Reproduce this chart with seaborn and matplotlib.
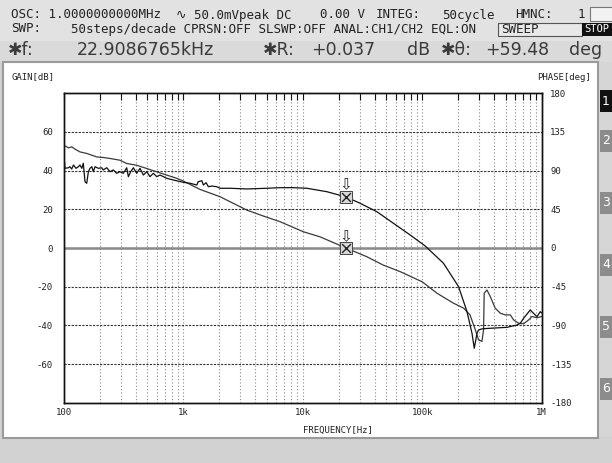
import numpy as np
import matplotlib
matplotlib.use("Agg")
import matplotlib.pyplot as plt
import matplotlib.ticker as mticker
from matplotlib.patches import Rectangle
import seaborn as sns

# gain curve (CH1/CH2), frequency in Hz, gain in dB
gain_freq = [100, 102, 109, 116, 124, 136, 155, 188, 213, 243, 294, 335, 406, 493, 598,
             725, 883, 1000, 1376, 2028, 3395, 4680, 6450, 10100, 13900, 22900, 34300,
             47000, 65200, 100000, 133000, 182000, 222000, 251000, 278000, 296000,
             316000, 326000, 330000, 348000, 371000, 408000, 450000, 495000, 546000,
             582000, 640000, 705000, 777000, 829000, 913000, 1000000]
gain_db = [53.5, 52.8, 51.8, 52.3, 51.1, 49.7, 48.9, 47.1, 46.8, 46.3, 45.4, 43.7, 42.8,
           41.1, 39.4, 37.7, 36.0, 34.6, 30.3, 26.5, 19.6, 16.5, 13.6, 8.4, 5.8, 0.037,
           -4.5, -8.8, -12.2, -17.5, -23.4, -28.5, -31.1, -34.6, -42.3, -47.5, -48.3,
           -42.3, -23.4, -21.7, -25.1, -31.1, -33.7, -34.6, -34.6, -37.2, -38.9, -39.2,
           -37.2, -35.4, -36.1, -35.4]

# phase curve, degrees
phase_freq = [100, 102, 109, 112, 116, 120, 126, 132, 136, 141, 145, 150, 155, 160, 165,
              171, 176, 182, 194, 207, 213, 228, 243, 259, 276, 294, 314, 335, 346, 362,
              381, 406, 433, 462, 493, 525, 560, 598, 637, 725, 824, 1000, 1137, 1294,
              1328, 1425, 1469, 1549, 1618, 1728, 1902, 2028, 2460, 3395, 4991, 6450,
              8345, 10810, 15890, 22900, 30200, 41700, 57400, 79300, 105900, 150600,
              201300, 236800, 260600, 272500, 287000, 296000, 318000, 371000, 512000,
              621000, 662000, 705000, 802000, 855000, 913000, 973000, 1000000]
phase_deg = [106.0, 92.7, 93.4, 94.6, 91.9, 96.6, 92.7, 94.6, 96.6, 92.7, 98.6, 77.1,
             75.3, 88.8, 92.7, 94.6, 88.8, 94.6, 92.7, 93.4, 90.8, 93.4, 88.8, 90.8, 86.9,
             88.8, 86.9, 93.4, 83.0, 88.8, 93.4, 86.9, 92.7, 84.9, 88.8, 83.0, 86.9, 83.0,
             84.9, 81.1, 79.1, 76.4, 75.3, 73.3, 77.1, 78.3, 73.3, 76.0, 71.3, 72.1, 71.3,
             69.5, 69.5, 68.7, 69.5, 70.2, 70.2, 69.5, 65.5, 59.48, 52.0, 42.2, 28.7,
             15.1, 2.3, -17.8, -45.0, -74.0, -99.0, -116.7, -99.3, -95.4, -94.0, -93.4,
             -92.3, -89.6, -87.6, -81.8, -72.1, -76.0, -79.9, -74.1, -75.6]

marker_freq = 22900
marker_gain = 0.037
marker_phase = 59.48

gain_ticks = [-60, -40, -20, 0, 20, 40, 60]
phase_ticks = [-180, -135, -90, -45, 0, 45, 90, 135, 180]
freq_ticks = [100, 1000, 10000, 100000, 1000000]
freq_labels = ["100", "1k", "10k", "100k", "1M"]

W, H = 612, 463

sns.set_theme(style="white")
plt.rcParams["font.family"] = ["DejaVu Sans Mono", "DejaVu Sans"]

fig = plt.figure(figsize=(W / 100, H / 100), dpi=100)
fig.patch.set_facecolor("#d2d2d2")


def box(x0, y0, x1, y1, fc, ec="none", lw=0):
    r = Rectangle((x0 / W, 1 - y1 / H), (x1 - x0) / W, (y1 - y0) / H,
                  transform=fig.transFigure, facecolor=fc, edgecolor=ec,
                  linewidth=lw, zorder=-5)
    fig.patches.append(r)


def txt(x, y, s, size=9, color="#222", ha="left", **kw):
    fig.text(x / W, 1 - y / H, s, fontsize=size, color=color, ha=ha, va="center", **kw)


# screen areas
box(0, 0, 612, 62, "#e2e2e2")
box(0, 41, 612, 62, "#dadada")
box(598, 62, 612, 437, "#d6d6d6")
box(3, 62, 598, 438, "white", "#9a9a9a", 1.5)

# header lines
txt(11, 15, "OSC: 1.0000000000MHz")
txt(176, 15, "\u223f 50.0mVpeak DC")
txt(320, 15, "0.00 V")
txt(376, 15, "INTEG:")
txt(442, 15, "50cycle")
txt(515, 15, "HMNC:")
txt(578, 15, "1")
box(590, 7, 613, 21, "#f2f2f2", "#777", 0.8)

txt(11, 29, "SWP:")
txt(71, 29, "50steps/decade CPRSN:OFF SLSWP:OFF ANAL:CH1/CH2 EQL:ON")
box(498, 23, 582, 36, "#e8e8e8", "#555", 0.8)
txt(501, 29.5, "SWEEP")
box(582, 23, 613, 36, "#111")
txt(584, 29.5, "STOP", size=7.5, color="white")

big = dict(size=12.5, family=["DejaVu Sans"], color="#3a3a3a")
txt(8, 50, "\u2731f:", **big)
txt(77, 50, "22.9086765kHz", **big)
txt(263, 50, "\u2731R:", **big)
txt(311, 50, "+0.037", **big)
txt(407, 50, "dB", **big)
txt(441, 50, "\u2731\u03b8:", **big)
txt(485, 50, "+59.48", **big)
txt(569, 50, "deg", **big)

# side tabs
for i, yc in enumerate([101, 141, 203, 265, 327, 389]):
    box(600, yc - 11, 612, yc + 11, "#111" if i == 0 else "#8c8c8c")
    txt(606, yc, str(i + 1), size=9, color="white", ha="center", family=["DejaVu Sans"])

# plot area
ax = fig.add_axes([64 / W, 1 - 402.7 / H, 477.7 / W, 309.4 / H])
ax.set_facecolor("white")
ax.set_xscale("log")
ax.set_xlim(100, 1e6)
ax.set_ylim(-80, 80)

ax.grid(axis="x", which="both", linestyle=(0, (1, 2)), color="#8a8a8a", linewidth=0.8)
ax.grid(axis="y", which="major", linestyle=(0, (2, 1.2)), color="#333", linewidth=0.8)
ax.axhline(0, color="#8a8a8a", linewidth=1.8, zorder=1.5)

sns.lineplot(x=gain_freq, y=gain_db, ax=ax, color="#3a3a3a", linewidth=0.9,
             estimator=None, zorder=3)

ax2 = ax.twinx()
ax2.set_ylim(-180, 180)
ax2.grid(False)
sns.lineplot(x=phase_freq, y=phase_deg, ax=ax2, color="#111", linewidth=0.9,
             estimator=None, zorder=3)

# markers
for a, yv in [(ax, marker_gain), (ax2, marker_phase)]:
    a.scatter([marker_freq], [yv], marker="s", s=75, facecolor="#d8d8d8",
              edgecolor="#444", linewidth=0.7, zorder=5)
    a.scatter([marker_freq], [yv], marker="x", s=40, color="#222", linewidth=1.0, zorder=6)
    a.annotate("\u21e9", xy=(marker_freq, yv), xytext=(0, 3), textcoords="offset points",
               ha="center", va="bottom", fontsize=11, color="#222",
               family=["DejaVu Sans"], zorder=6)

tick_font = dict(fontsize=6.5, color="#222")
ax.set_xticks(freq_ticks)
ax.set_xticklabels(freq_labels, **tick_font)
ax.xaxis.set_minor_locator(mticker.LogLocator(base=10, subs=np.arange(2, 10)))
ax.xaxis.set_minor_formatter(mticker.NullFormatter())
ax.tick_params(axis="x", which="both", direction="in", top=True, length=5,
               width=0.8, color="#111", pad=4)
ax.set_yticks(gain_ticks)
ax.set_yticklabels([str(v) for v in gain_ticks], **tick_font)
ax.tick_params(axis="y", length=0, pad=8)
ax2.set_yticks(phase_ticks)
ax2.set_yticklabels([str(v) for v in phase_ticks], **tick_font)
ax2.tick_params(axis="y", length=0, pad=6)

for a in (ax, ax2):
    for s in a.spines.values():
        s.set_color("#111")
        s.set_linewidth(1.0)
ax.set_xlabel("")
ax.set_ylabel("")
ax2.set_ylabel("")

txt(12, 77, "GAIN[dB]", size=6.5)
txt(591, 77, "PHASE[deg]", size=6.5, ha="right")
txt(303, 430, "FREQUENCY[Hz]", size=6.5)

fig.savefig("out.png", dpi=100)
